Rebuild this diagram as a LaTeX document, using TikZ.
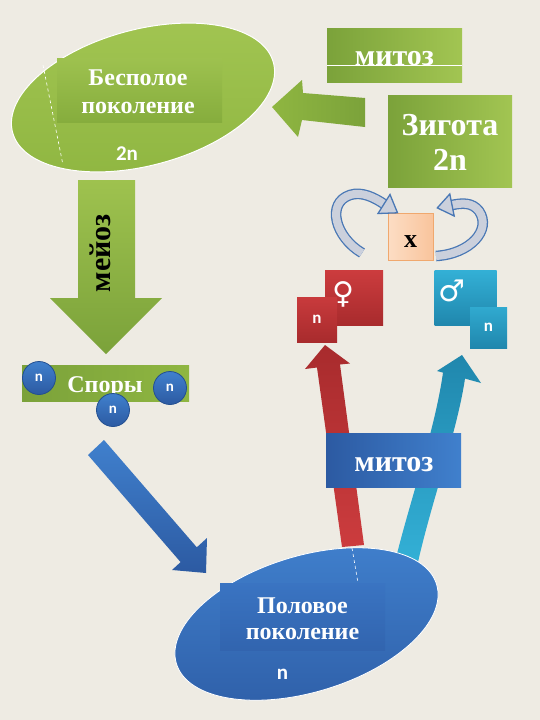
\documentclass[tikz,border=0pt]{standalone}
\usepackage{fontspec}
\setmainfont{Liberation Serif}
\newfontfamily\sansf{Carlito}
\newfontfamily\symf{DejaVu Sans}
\usetikzlibrary{shapes.geometric}
\definecolor{bg}{HTML}{EEEBE3}
\definecolor{gL}{HTML}{7BA23A}
\definecolor{gR}{HTML}{A2C552}
\definecolor{gM}{HTML}{8FB641}
\definecolor{gIn}{HTML}{86AD3D}
\definecolor{bL}{HTML}{2C5AA2}
\definecolor{bR}{HTML}{4080CD}
\definecolor{bM}{HTML}{3A74C2}
\definecolor{bD}{HTML}{234F91}
\definecolor{rT}{HTML}{CC3C3E}
\definecolor{rB}{HTML}{A82B2D}
\definecolor{cT}{HTML}{33B0D6}
\definecolor{cB}{HTML}{2087AD}
\definecolor{pk}{HTML}{FCDDC4}
\definecolor{pk2}{HTML}{F9C49C}
\definecolor{pkB}{HTML}{F0A86E}
\definecolor{rib}{HTML}{CBD0DC}
\definecolor{ribB}{HTML}{4A78B5}
\begin{document}
\begin{tikzpicture}[x=1pt,y=-1pt,
  plain/.style={inner sep=0pt,outer sep=0pt},
  wtxt/.style={text=white,font=\bfseries\fontsize{24}{28}\selectfont,anchor=base,inner sep=0pt},
  btxt/.style={text=white,font=\bfseries\fontsize{30}{34}\selectfont,anchor=base,inner sep=0pt},
  ntxt/.style={text=white,font=\sansf\bfseries\fontsize{15}{17}\selectfont,inner sep=0pt},
  bign/.style={text=white,font=\sansf\bfseries\fontsize{21}{24}\selectfont,anchor=base,inner sep=0pt},
  spore/.style={circle,minimum size=33pt,inner sep=0pt,draw=bD,line width=0.8pt,top color=bR,bottom color=bL},
  ribbon/.style={draw=ribB,line width=1.3pt,double=rib,double distance=8pt},
  ribhead/.style={fill=rib,draw=ribB,line width=1.3pt,line join=miter}
]
\useasboundingbox (0,0) rectangle (540,720);
\fill[bg] (0,0) rectangle (540,720);

% ---- green asexual generation ellipse
\node[plain,ellipse,draw=white,line width=1pt,minimum width=270pt,minimum height=136pt,
      rotate=15,top color=gR,bottom color=gM] (asex) at (143,97.5) {};
\node[plain,minimum width=165pt,minimum height=64pt,top color=gR!85!gIn,bottom color=gIn] (asexbox) at (139.5,90) {};
\draw[white,dashed,line width=0.6pt] (43,65) -- (63,165);
\node[wtxt] (asexA) at (138,85) {Бесполое};
\node[wtxt] (asexB) at (138,113) {поколение};
\node[bign] (asexN) at (127,160) {2n};

% ---- top mitosis box
\node[plain,minimum width=135pt,minimum height=54pt,left color=gL,right color=gR] (mitA) at (394.5,55) {};
\node[btxt] (mitAt) at (394.5,65) {митоз};
\draw[white,line width=0.8pt] (mitA.west |- 0,65) -- (mitA.east |- 0,65);

% ---- green left arrow
\shade[left color=gM,right color=gL] (272,107) -- (302,80) -- (303,93) -- (365,98) -- (365,127) -- (302,120) -- (298,137) -- cycle;

% ---- zygote box
\node[plain,minimum width=124pt,minimum height=92pt,left color=gL,right color=gR] (zyg) at (450,141) {};
\node[text=white,font=\bfseries\fontsize{32}{35}\selectfont,anchor=base,inner sep=0pt] (zygA) at (450,135) {Зигота};
\node[text=white,font=\bfseries\fontsize{32}{35}\selectfont,anchor=base,inner sep=0pt] (zygB) at (450,170) {2n};

% ---- fertilisation box and ribbons
\node[plain,minimum width=45pt,minimum height=47pt,left color=pk,right color=pk2,draw=pkB,line width=0.5pt] (fert) at (410.5,236.5) {};
\node[font=\bfseries\fontsize{26}{28}\selectfont,anchor=base,inner sep=0pt] (fertx) at (410.5,247) {x};
\draw[ribbon] (362,253) .. controls (335,237) and (326,203) .. (350,195) .. controls (362,191) and (375,198) .. (384,204);
\filldraw[ribhead] (378,213.5) -- (397.5,212.8) -- (390,194.5) -- cycle;
\draw[ribbon] (436,256) .. controls (470,254) and (492,230) .. (479,211) .. controls (472,202) and (462,203) .. (452,205);
\filldraw[ribhead] (454.2,216) -- (437.3,207.9) -- (449.8,194) -- cycle;

% ---- female / male boxes
\node[plain,minimum width=58pt,minimum height=55pt,top color=rT,bottom color=rB] (fem) at (354,297.5) {};
\node[text=white,font=\symf\fontsize{30}{32}\selectfont,inner sep=0pt] (femS) at (343,294) {♀};
\node[plain,minimum width=40pt,minimum height=45pt,top color=rT!90!rB,bottom color=rB] (femN) at (317,319.5) {};
\node[ntxt,font=\sansf\bfseries\fontsize{17}{19}\selectfont] at (femN) {n};

\node[plain,minimum width=62pt,minimum height=55pt,top color=cT,bottom color=cB] (mal) at (465.5,297.5) {};
\node[text=white,font=\symf\fontsize{30}{32}\selectfont,inner sep=0pt] (malS) at (452,291) {♂};
\node[plain,minimum width=37pt,minimum height=41pt,top color=cT!85!cB,bottom color=cB] (malN) at (488.5,327.5) {};
\node[ntxt,font=\sansf\bfseries\fontsize{17}{19}\selectfont] at (malN) {n};

% ---- red and cyan arrows (mitosis)
\shade[top color=rB,bottom color=rT] (342,547) -- (317,367.5) -- (305,369) -- (325,345) -- (350,363.5) -- (340,364.5) -- (364,545) -- cycle;
\shade[top color=cB,bottom color=cT] (395,562) .. controls (410,500) and (435,430) .. (443,372.6) -- (437,371) -- (462,355) -- (481,383) -- (465,378.6) .. controls (457,432) and (432,500) .. (418,562) -- cycle;

% ---- green down arrow (meiosis)
\shade[top color=gR!80!gM,bottom color=gL] (78,180) -- (135,180) -- (135,298) -- (162,298) -- (106,354) -- (50,298) -- (78,298) -- cycle;
\node[text=black,font=\bfseries\fontsize{30}{32}\selectfont,rotate=90,anchor=base,inner sep=0pt] (meioz) at (110,253) {мейоз};

% ---- spores
\node[plain,minimum width=167pt,minimum height=36pt,left color=gL,right color=gM] (spor) at (105.5,383) {};
\node[wtxt] (sporT) at (105,392) {Споры};
\node[spore] (s1) at (39,378) {};
\node[ntxt] at (s1) {n};
\node[spore] (s2) at (170,388) {};
\node[ntxt] at (s2) {n};
\node[spore] (s3) at (113,410) {};
\node[ntxt] at (s3) {n};

% ---- blue diagonal arrow
\shade[top color=bR,bottom color=bL] (88,455) -- (180.6,562.1) -- (172,570) -- (206,573) -- (207,538) -- (196.8,547.3) -- (104,440) -- cycle;

% ---- blue sexual generation ellipse
\node[plain,ellipse,draw=white,line width=0.8pt,minimum width=272pt,minimum height=136pt,
      rotate=17,top color=bR,bottom color=bL!80!bM] (sex) at (306.5,624) {};
\node[plain,minimum width=165pt,minimum height=67pt,top color=bM,bottom color=bL!60!bM] (sexbox) at (302.5,616.5) {};
\draw[white,dashed,line width=0.6pt] (352,548) -- (358,583);
\node[wtxt] (sexA) at (302.5,613) {Половое};
\node[wtxt] (sexB) at (302.5,639) {поколение};
\node[bign] (sexN) at (282.5,679) {n};

% ---- bottom mitosis box
\node[plain,minimum width=135pt,minimum height=54pt,left color=bL,right color=bR] (mitB) at (393.5,460) {};
\node[btxt] (mitBt) at (394,471) {митоз};
\end{tikzpicture}
\end{document}
